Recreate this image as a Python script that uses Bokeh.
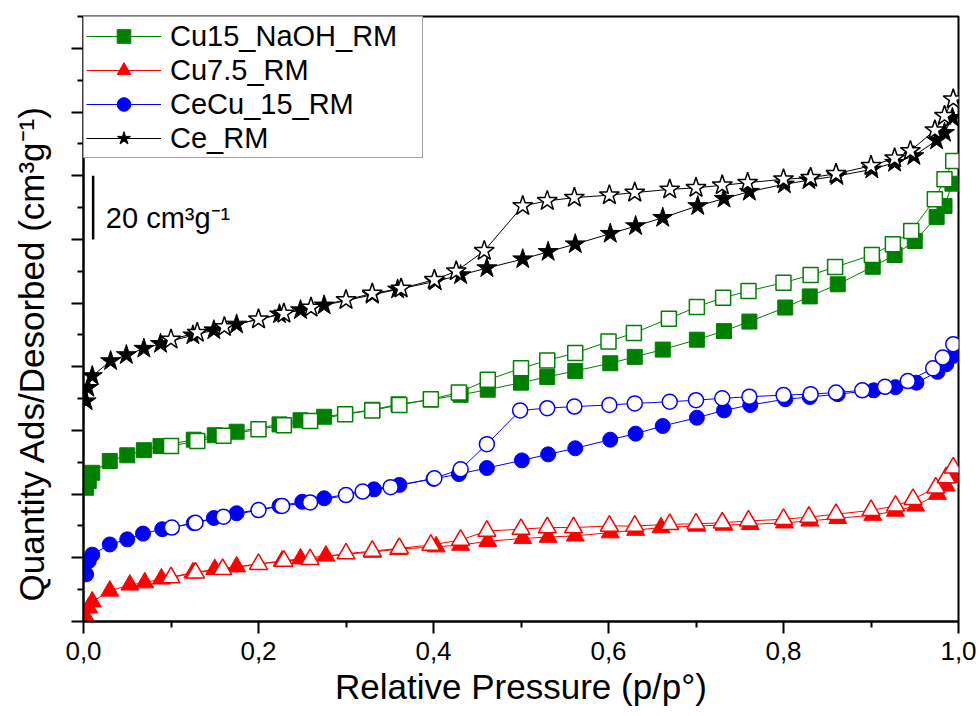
from bokeh.plotting import figure
from bokeh.models import (Range1d, FixedTicker, CustomJSTickFormatter, Legend,
                          LegendItem, Label, Title, LinearAxis)
from bokeh.embed import file_html
from bokeh.resources import INLINE

# ---------------- data ----------------
X_TICKS = [0.0, 0.2, 0.4, 0.6, 0.8, 1.0]
X_MINOR = [0.1, 0.3, 0.5, 0.7, 0.9]
Y_TICKS = [0, 20, 40, 60, 80, 100, 120, 140, 160, 180]
Y_MINOR = [10, 30, 50, 70, 90, 110, 130, 150, 170, 190]

X_TITLE = "Relative Pressure (p/p°)"
Y_TITLE = "Quantity Ads/Desorbed (cm³g⁻¹)"
SCALE_TEXT = "20 cm³g⁻¹"
SCALE_X = 0.011
SCALE_Y0 = 120
SCALE_LEN = 20

NAMES = ["Cu15_NaOH_RM", "Cu7.5_RM", "CeCu_15_RM", "Ce_RM"]

# Cu15_NaOH_RM
GR_ADS_X = [0.003, 0.006, 0.010, 0.030, 0.050, 0.069, 0.088, 0.126, 0.150, 0.175, 0.224, 0.248,
            0.275, 0.330, 0.360, 0.397, 0.431, 0.462, 0.500, 0.530, 0.562, 0.602, 0.630, 0.662,
            0.701, 0.732, 0.761, 0.802, 0.830, 0.862, 0.902, 0.927, 0.950, 0.975, 0.984, 0.993]
GR_ADS_Y = [42.0, 44.1, 46.7, 50.4, 52.2, 53.8, 55.1, 57.1, 58.5, 59.6, 61.9, 63.2,
            64.3, 66.5, 68.2, 69.7, 71.2, 72.8, 75.0, 76.8, 78.7, 81.1, 83.1, 85.4,
            88.5, 91.2, 94.2, 98.6, 102.1, 105.9, 111.4, 115.1, 119.5, 127.0, 130.5, 137.5]
GR_DES_X = [0.100, 0.130, 0.160, 0.200, 0.229, 0.259, 0.299, 0.330, 0.361, 0.397, 0.429, 0.462,
            0.500, 0.530, 0.562, 0.600, 0.629, 0.669, 0.701, 0.731, 0.760, 0.800, 0.831, 0.859,
            0.901, 0.925, 0.946, 0.973, 0.984, 0.994]
GR_DES_Y = [55.1, 56.7, 58.3, 60.4, 61.6, 63.0, 65.1, 66.3, 68.0, 69.8, 71.9, 75.9,
            79.5, 82.0, 84.3, 87.9, 90.6, 95.1, 98.8, 101.7, 103.8, 106.4, 108.8, 111.3,
            115.1, 118.5, 122.6, 132.6, 138.9, 144.6]

# Cu7.5_RM
RD_ADS_X = [0.003, 0.006, 0.010, 0.030, 0.053, 0.070, 0.089, 0.125, 0.150, 0.175, 0.227, 0.248,
            0.277, 0.330, 0.360, 0.403, 0.431, 0.462, 0.502, 0.531, 0.562, 0.602, 0.631, 0.660,
            0.701, 0.732, 0.762, 0.801, 0.830, 0.862, 0.902, 0.928, 0.951, 0.976, 0.986, 0.994]
RD_ADS_Y = [1.2, 4.3, 6.2, 9.6, 11.5, 12.2, 13.4, 15.3, 16.4, 17.2, 19.0, 19.7,
            20.6, 21.8, 22.7, 23.5, 24.0, 25.2, 26.1, 26.5, 26.9, 27.9, 28.7, 29.5,
            30.0, 30.3, 30.5, 31.0, 31.6, 32.4, 33.4, 34.7, 36.3, 40.0, 42.6, 45.2]
RD_DES_X = [0.100, 0.128, 0.159, 0.200, 0.229, 0.259, 0.300, 0.330, 0.361, 0.397, 0.431, 0.461,
            0.500, 0.530, 0.560, 0.601, 0.630, 0.670, 0.700, 0.730, 0.760, 0.800, 0.829, 0.860,
            0.900, 0.928, 0.948, 0.974, 0.986, 0.994]
RD_DES_Y = [13.8, 15.3, 16.4, 18.0, 19.0, 19.5, 21.3, 22.1, 23.0, 24.0, 25.6, 28.4,
            29.0, 29.5, 29.5, 30.0, 30.0, 30.5, 30.7, 31.0, 31.6, 32.1, 32.8, 33.7,
            34.9, 36.3, 38.4, 42.0, 45.2, 48.3]

# CeCu_15_RM
BL_ADS_X = [0.003, 0.006, 0.010, 0.030, 0.050, 0.068, 0.090, 0.126, 0.149, 0.175, 0.224, 0.250,
            0.275, 0.332, 0.361, 0.400, 0.429, 0.461, 0.501, 0.531, 0.562, 0.602, 0.631, 0.662,
            0.701, 0.732, 0.762, 0.802, 0.830, 0.862, 0.903, 0.928, 0.952, 0.976, 0.986, 0.994]
BL_ADS_Y = [14.8, 19.0, 21.0, 24.2, 25.8, 27.6, 29.0, 30.9, 32.5, 34.0, 36.3, 37.6,
            38.7, 41.5, 42.9, 44.8, 46.3, 48.2, 50.6, 52.5, 54.4, 57.1, 59.0, 61.4,
            64.0, 66.3, 68.0, 69.8, 70.5, 71.4, 72.6, 73.6, 75.0, 78.4, 80.8, 83.4]
BL_DES_X = [0.101, 0.128, 0.160, 0.200, 0.227, 0.259, 0.300, 0.319, 0.351, 0.401, 0.431, 0.461,
            0.499, 0.530, 0.561, 0.601, 0.630, 0.670, 0.700, 0.730, 0.761, 0.800, 0.831, 0.860,
            0.890, 0.916, 0.942, 0.971, 0.982, 0.994]
BL_DES_Y = [29.5, 31.0, 32.9, 35.0, 36.3, 37.4, 39.7, 40.8, 42.2, 45.0, 47.8, 55.7,
            66.3, 67.0, 67.5, 68.0, 68.5, 69.0, 69.5, 70.1, 70.6, 71.1, 71.4, 71.9,
            72.6, 73.7, 75.5, 79.5, 82.9, 87.1]

# Ce_RM
CE_ADS_X = [0.003, 0.005, 0.010, 0.031, 0.049, 0.069, 0.088, 0.125, 0.149, 0.175, 0.224, 0.248,
            0.275, 0.330, 0.359, 0.402, 0.431, 0.461, 0.502, 0.531, 0.562, 0.602, 0.631, 0.662,
            0.702, 0.732, 0.761, 0.801, 0.829, 0.861, 0.901, 0.927, 0.949, 0.975, 0.984, 0.993]
CE_ADS_Y = [69.2, 73.4, 77.1, 81.8, 83.7, 85.7, 87.2, 89.9, 91.5, 93.3, 96.5, 97.8,
            99.3, 102.6, 104.3, 106.8, 108.8, 111.0, 113.8, 116.1, 118.5, 121.8, 124.2, 126.8,
            130.5, 132.8, 135.0, 137.3, 138.6, 139.9, 142.0, 144.1, 146.2, 151.1, 153.5, 158.2]
CE_DES_X = [0.100, 0.130, 0.161, 0.200, 0.229, 0.260, 0.300, 0.330, 0.363, 0.401, 0.426, 0.458,
            0.502, 0.530, 0.561, 0.601, 0.630, 0.670, 0.700, 0.730, 0.759, 0.800, 0.831, 0.860,
            0.900, 0.927, 0.945, 0.973, 0.984, 0.994]
CE_DES_Y = [88.6, 90.7, 92.5, 94.9, 96.7, 98.6, 101.0, 103.0, 104.6, 107.3, 110.0, 116.4,
            130.5, 132.1, 133.1, 133.9, 134.7, 135.7, 136.2, 137.0, 137.8, 138.9, 139.4, 140.6,
            143.1, 145.5, 147.8, 154.3, 158.8, 164.0]

# ---------------- styling ----------------
FONT = "Liberation Sans"
STYLES = [
    dict(color="#008000", marker="square", size=15),
    dict(color="#ff0000", marker="triangle", size=18),
    dict(color="#0000ff", marker="circle", size=15),
    dict(color="#000000", marker="star", size=21),
]
DATA = [
    (GR_ADS_X, GR_ADS_Y, GR_DES_X, GR_DES_Y),
    (RD_ADS_X, RD_ADS_Y, RD_DES_X, RD_DES_Y),
    (BL_ADS_X, BL_ADS_Y, BL_DES_X, BL_DES_Y),
    (CE_ADS_X, CE_ADS_Y, CE_DES_X, CE_DES_Y),
]

p = figure(width=980, height=716, output_backend="svg", toolbar_location=None,
           x_range=Range1d(0, 1.0), y_range=Range1d(0, 190),
           min_border_left=83, min_border_right=22, min_border_top=16, min_border_bottom=95)
p.grid.visible = False
p.background_fill_color = "white"
p.border_fill_color = "white"
p.outline_line_color = "black"
p.outline_line_width = 2

xa = p.xaxis[0]
xa.ticker = FixedTicker(ticks=X_TICKS, minor_ticks=X_MINOR)
xa.formatter = CustomJSTickFormatter(code="return tick.toFixed(1).replace('.', ',');")
xa.axis_line_width = 2
xa.major_tick_line_width = 2
xa.minor_tick_line_width = 2
xa.major_tick_out = 12
xa.major_tick_in = 0
xa.minor_tick_out = 6
xa.minor_tick_in = 0
xa.major_label_text_font = FONT
xa.major_label_text_font_size = "26px"
xa.major_label_text_color = "black"
xa.major_label_standoff = 8
xa.axis_label = X_TITLE
xa.axis_label_text_font = FONT
xa.axis_label_text_font_size = "35px"
xa.axis_label_text_font_style = "normal"
xa.axis_label_text_color = "black"
xa.axis_label_standoff = 4

ya = p.yaxis[0]
ya.ticker = FixedTicker(ticks=Y_TICKS, minor_ticks=Y_MINOR)
ya.major_label_overrides = {t: "" for t in Y_TICKS}
ya.axis_line_width = 2
ya.major_tick_line_width = 2
ya.minor_tick_line_width = 2
ya.major_tick_out = 12
ya.major_tick_in = 0
ya.minor_tick_out = 6
ya.minor_tick_in = 0
ya.major_label_text_font_size = "1px"

legend_items = []
for name, st, (ax, ay, dx, dy) in zip(NAMES, STYLES, DATA):
    la = p.line(ax, ay, line_color=st["color"], line_width=1)
    sa = p.scatter(ax, ay, marker=st["marker"], size=st["size"], fill_color=st["color"],
                   line_color=st["color"], line_width=1)
    p.line(dx, dy, line_color=st["color"], line_width=1)
    p.scatter(dx, dy, marker=st["marker"], size=st["size"], fill_color="white",
              line_color=st["color"], line_width=1.5)
    legend_items.append(LegendItem(label=name, renderers=[la, sa]))

legend = Legend(items=legend_items, location="top_left", margin=0, padding=2,
                spacing=0, glyph_width=75, glyph_height=34, label_height=34,
                label_width=250, label_standoff=9,
                label_text_font=FONT, label_text_font_size="29px",
                label_text_color="black",
                border_line_color="#444444", border_line_width=1,
                background_fill_color="white", background_fill_alpha=1.0)
p.add_layout(legend)

# scale bar
p.segment(x0=[SCALE_X], y0=[SCALE_Y0], x1=[SCALE_X], y1=[SCALE_Y0 + SCALE_LEN],
          line_color="black", line_width=2.5)
p.add_layout(Label(x=SCALE_X + 0.0145, y=SCALE_Y0 + 6.6, text=SCALE_TEXT,
                   text_font=FONT, text_font_size="29px", text_color="black",
                   text_baseline="alphabetic", text_align="left"))

# invisible spacer axis, pushes the y title further to the left
spacer = LinearAxis(ticker=FixedTicker(ticks=[0]), major_label_overrides={0: ""},
                    major_tick_out=14, major_tick_in=0, minor_tick_out=0, minor_tick_in=0,
                    axis_line_color=None, major_tick_line_color=None,
                    minor_tick_line_color=None, major_label_text_font_size="1px",
                    major_label_standoff=0)
p.add_layout(spacer, "left")

# y axis title as a side title (slightly below the frame centre, as in the original)
p.add_layout(Title(text=Y_TITLE, align="left", offset=20, vertical_align="bottom",
                   text_font=FONT, text_font_size="35px", text_font_style="normal",
                   text_color="black", standoff=14), "left")

open("out.html", "w").write(file_html(p, INLINE))
